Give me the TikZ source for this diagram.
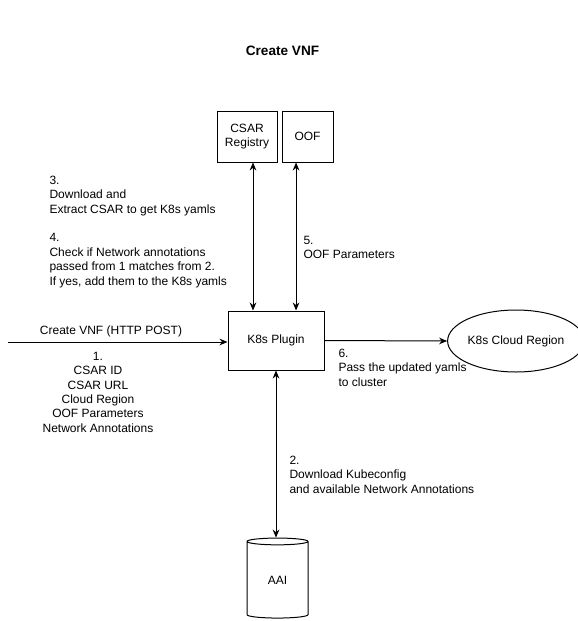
\documentclass[tikz,border=0pt]{standalone}
\usepackage{fontspec}
\setmainfont{Liberation Sans}
\usetikzlibrary{shapes.geometric,arrows.meta}
\begin{document}
\begin{tikzpicture}[x=0.75pt, y=-0.75pt, line width=0.75pt, >={Stealth[length=6pt,width=5pt]},
    every node/.style={font=\fontsize{9pt}{10.8pt}\selectfont},
    box/.style={draw, inner sep=0pt},
    note/.style={align=left, anchor=north west, inner sep=0pt}]
        \useasboundingbox (0,0) rectangle (578,621);

        % Title
        \node[font=\fontsize{10.2pt}{12pt}\selectfont\bfseries] (title) at (282.5,51) {Create VNF};

        % Boxes
        \node[box, minimum width=45pt, minimum height=38.25pt, align=center] (registry) at (247,136.5) {CSAR\\Registry};
        \node[box, minimum width=38.25pt, minimum height=38.25pt] (oof) at (307.5,136.5) {OOF};
        \node[box, minimum width=72pt, minimum height=44.25pt] (plugin) at (276,340.5) {K8s Plugin};
        \node[box, ellipse, minimum width=88.5pt, minimum height=46.5pt] (cloud) at (516,341) {K8s Cloud Region};
        \node[box, cylinder, shape border rotate=90, shape aspect=0.35, minimum width=45.75pt, minimum height=60pt] (aai) at (277.5,580) {AAI};

        % Arrows
        \coordinate (in) at (8,342);
        \draw[->] (in) -- (in -| plugin.west);
        \draw[<->] ([xshift=4.5pt]registry.south) -- ([xshift=4.5pt]registry.south |- plugin.north);
        \draw[<->] ([xshift=-8.6pt]oof.south) -- ([xshift=-8.6pt]oof.south |- plugin.north);
        \draw[->] (plugin.east) -- (cloud.west);
        \draw[<->] (plugin.south) -- (plugin.south |- aai.north);

        % Labels
        \node (post) at (111,331) {Create VNF (HTTP POST)};
        \node[align=center, anchor=north, inner sep=0pt] (params) at (98,351.5) {1.\\CSAR ID\\CSAR URL\\Cloud Region\\OOF Parameters\\Network Annotations};
        \node[note] (kubeconfig) at (289,455.5) {2.\\Download Kubeconfig\\and available Network Annotations};
        \node[note] (extract) at (49,175.5) {3.\\Download and\\Extract CSAR to get K8s yamls\\[10.8pt]4.\\Check if Network annotations\\passed from 1 matches from 2.\\If yes, add them to the K8s yamls};
        \node[note] (oofparams) at (303,235.5) {5.\\OOF Parameters};
        \node[note] (pass) at (338,348.5) {6.\\Pass the updated yamls\\to cluster};
    \end{tikzpicture}
\end{document}
